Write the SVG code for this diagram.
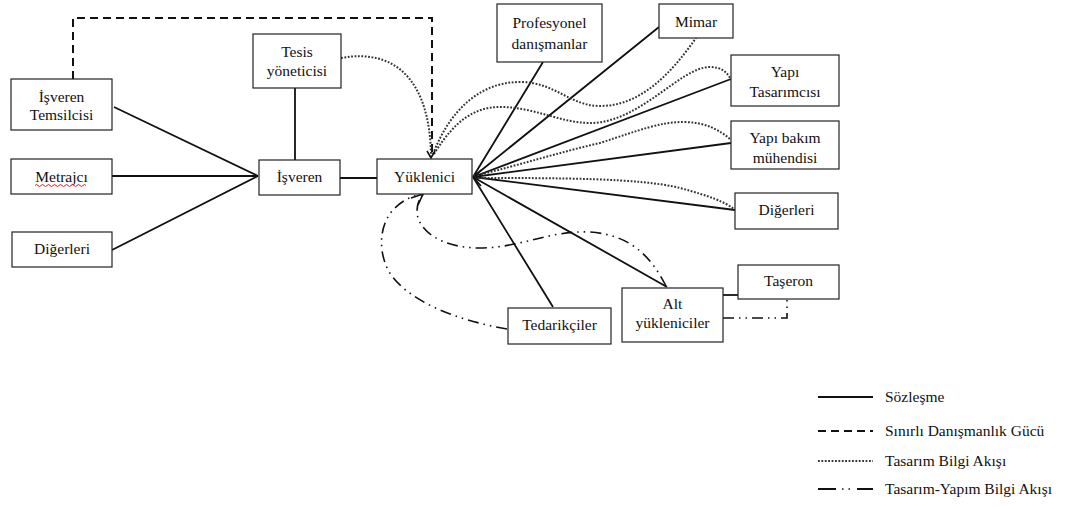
<svg xmlns="http://www.w3.org/2000/svg" width="1068" height="509" viewBox="0 0 1068 509" font-family="'Liberation Serif', 'DejaVu Serif', serif">
<style>
.box{fill:#fff;stroke:#222;stroke-width:1.2}
.t{font-size:15.5px;fill:#111;text-anchor:middle}
.lt{font-size:15.5px;fill:#111}
.solid{fill:none;stroke:#111;stroke-width:1.8}
.dash{fill:none;stroke:#111;stroke-width:2;stroke-dasharray:8 5}
.dot{fill:none;stroke:#333;stroke-width:2;stroke-dasharray:1.8 1.6}
.dd{fill:none;stroke:#111;stroke-width:1.6;stroke-dasharray:11 5 1.5 5 1.5 5}
.arr{fill:none;stroke:#111;stroke-width:1.6}
</style>
<rect width="1068" height="509" fill="#fff"/>
<g id="connectors">
  <path class="solid" d="M114,107 L258,176 M112,176 L258,176 M112,250 L258,176"/>
  <path class="solid" d="M295,88 V160 M340,178 H377"/>
  <path class="solid" d="M473,177 L543,62 M473,177 L659,27 M473,177 L731,79 M473,177 L731,143 M473,177 L735,210 M473,177 L667,287 M473,177 L553,307"/>
  <path class="solid" d="M723,295 H738"/>
  <path class="dash" d="M73,79 V18 H432 V156"/>
  <path class="dot" d="M341,58 C395,48 430,80 431,156"/>
  <path class="dot" d="M433,154 C450,110 480,82 520,82 C555,82 570,106 600,106 C640,106 670,75 696,38"/>
  <path class="dot" d="M434,154 C455,120 475,107 500,107 C535,107 560,123 590,123 C640,123 680,67 710,67 C722,67 728,73 731,80"/>
  <path class="dot" d="M474,176 C520,165 560,152 600,143 C640,130 660,122 683,122 C705,122 720,130 731,140"/>
  <path class="dot" d="M474,178 C560,178 640,178 680,188 C710,196 725,202 734,209"/>
  <path class="dd" d="M507,329 C455,320 405,300 388,270 C376,245 382,220 395,208 C403,200 412,196 422,194"/>
  <path class="dd" d="M666,286 C650,255 630,235 590,232 C550,230 520,248 480,248 C440,248 418,230 417,212 C417,204 419,199 423,195"/>
  <path class="dd" d="M723,318 H787 V299"/>
  <path class="arr" d="M427,151 L431,158 L435,151"/>
  <path class="arr" d="M481,170 L474,178 L481,186"/>
  <path class="arr" d="M411,198 L423,194 L418,205"/>
</g>
<g id="isveren-temsilcisi"><rect class="box" x="11" y="79" width="101" height="51"/><text class="t" x="61.5" y="102">İşveren</text><text class="t" x="61.5" y="120">Temsilcisi</text></g>
<g id="metrajci"><rect class="box" x="11" y="159" width="101" height="35"/><text class="t" x="61.5" y="182">Metrajcı</text><path d="M35,185.5 q1.5,-2 3,0 t3,0 t3,0 t3,0 t3,0 t3,0 t3,0 t3,0 t3,0 t3,0 t3,0 t3,0 t3,0 t3,0 t3,0 t3,0 t3,0" fill="none" stroke="#d22" stroke-width="1"/></g>
<g id="digerleri-sol"><rect class="box" x="12" y="232" width="100" height="35"/><text class="t" x="62" y="254">Diğerleri</text></g>
<g id="tesis"><rect class="box" x="253" y="34" width="88" height="54"/><text class="t" x="297" y="57">Tesis</text><text class="t" x="297" y="76">yöneticisi</text></g>
<g id="isveren"><rect class="box" x="259" y="160" width="81" height="35"/><text class="t" x="299.5" y="182">İşveren</text></g>
<g id="yuklenici"><rect class="box" x="377" y="159" width="95" height="35"/><text class="t" x="424.5" y="182">Yüklenici</text></g>
<g id="profesyonel"><rect class="box" x="497" y="4" width="105" height="58"/><text class="t" x="549.5" y="28">Profesyonel</text><text class="t" x="549.5" y="49">danışmanlar</text></g>
<g id="mimar"><rect class="box" x="659" y="4" width="74" height="34"/><text class="t" x="696" y="27">Mimar</text></g>
<g id="yapi-tasarimcisi"><rect class="box" x="731" y="55" width="108" height="51"/><text class="t" x="785" y="77">Yapı</text><text class="t" x="785" y="97">Tasarımcısı</text></g>
<g id="yapi-bakim"><rect class="box" x="731" y="121" width="108" height="48"/><text class="t" x="785" y="143">Yapı bakım</text><text class="t" x="785" y="163">mühendisi</text></g>
<g id="digerleri-sag"><rect class="box" x="735" y="193" width="103" height="36"/><text class="t" x="786.5" y="215">Diğerleri</text></g>
<g id="taseron"><rect class="box" x="738" y="265" width="101" height="34"/><text class="t" x="788.5" y="286">Taşeron</text></g>
<g id="alt-yukleniciler"><rect class="box" x="622" y="288" width="101" height="54"/><text class="t" x="672.5" y="309">Alt</text><text class="t" x="672.5" y="328">yükleniciler</text></g>
<g id="tedarikciler"><rect class="box" x="508" y="308" width="103" height="36"/><text class="t" x="559.5" y="330">Tedarikçiler</text></g>
<g id="legend">
  <path class="solid" d="M818,397 H873"/>
  <path class="dash" d="M818,431 H873"/>
  <path class="dot" d="M818,461 H873"/>
  <path fill="none" stroke="#111" stroke-width="1.8" d="M818,489 H836 M857,489 H873"/>
  <path fill="none" stroke="#111" stroke-width="1.6" stroke-dasharray="1.5 5" d="M842,489 H855"/>
  <text class="lt" x="885" y="402">Sözleşme</text>
  <text class="lt" x="885" y="436">Sınırlı Danışmanlık Gücü</text>
  <text class="lt" x="885" y="466">Tasarım Bilgi Akışı</text>
  <text class="lt" x="885" y="494">Tasarım-Yapım Bilgi Akışı</text>
</g>
</svg>
